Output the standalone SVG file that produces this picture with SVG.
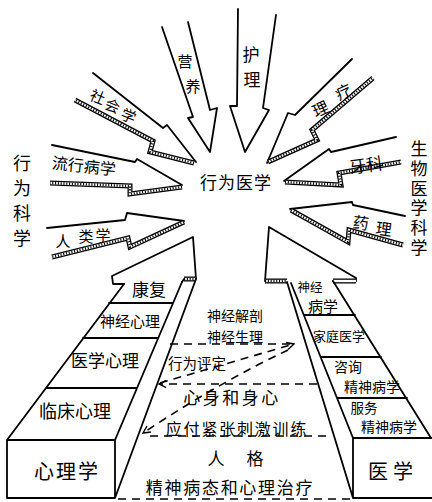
<svg xmlns="http://www.w3.org/2000/svg" width="432" height="502" viewBox="0 0 432 502">
<style>
.o{fill:none;stroke:#000;stroke-width:1.8;stroke-linejoin:round;stroke-linecap:round}
.h1{fill:none;stroke:#000;stroke-width:5;stroke-linejoin:miter}
.h2{fill:none;stroke:#fff;stroke-width:2.4}
.h3{fill:none;stroke:#000;stroke-width:2.4;stroke-dasharray:1.1 1.7}
.d{fill:none;stroke:#000;stroke-width:1.6;stroke-dasharray:8 6}
text{font-family:"Noto Sans CJK SC","Noto Sans CJK TC",sans-serif;fill:#000;text-anchor:middle;dominant-baseline:central}
.v{writing-mode:vertical-rl;text-anchor:start}
</style>
<defs>
<marker id="ah" viewBox="0 0 10 10" refX="9" refY="5" markerUnits="userSpaceOnUse" markerWidth="9" markerHeight="9" orient="auto"><path d="M1,1 L9,5 L1,9" fill="none" stroke="#000" stroke-width="1.6"/></marker>
<path id="hs" d="M194,163 L150,152 L153,141 L75,100"/>
<path id="hl" d="M182,187 L130,194 L130,186 L50,183"/>
<path id="hr" d="M184,222 L130,247 L128,238 L52,257"/>
<path id="hq" d="M268,162 L317,140 L312,130 L373,78"/>
<path id="hy" d="M285,182 L341,185 L339,173 L401,162"/>
<path id="hp" d="M291,210 L348,242 L349,230 L403,245"/>
<path id="hb1" d="M184,279 L196,279"/>
<path id="hb2" d="M265,281 L287,281"/>
<path id="hb3" d="M333,281 L356,281"/>
</defs>
<rect width="432" height="502" fill="#fff"/>

<g id="center"><text x="236" y="181" font-size="17" letter-spacing="1">行为医学</text></g>

<g id="group-behavioral"><text class="v" x="22" y="154" font-size="18" letter-spacing="7">行为科学</text></g>
<g id="group-biomedical"><text class="v" x="419" y="140" font-size="17" letter-spacing="2.8">生物医学科学</text></g>

<g id="arrow-nutrition"><path class="o" d="M162,27 L193,117 L188,118 L210,152 L217,108 L210,110 L188,22"/><text x="185" y="60" font-size="15">营</text><text x="193" y="85" font-size="15">养</text></g>
<g id="arrow-nursing"><path class="o" d="M238,9 L237,106 L230,106 L245,152 L269,110 L263,108 L276,15"/><text x="251" y="53" font-size="17">护</text><text x="252" y="78" font-size="17">理</text></g>
<g id="arrow-physio"><path class="o" d="M352,59 L295,115 L288,113 L267,163"/><use href="#hq" class="h1"/><use href="#hq" class="h2"/><use href="#hq" class="h3"/><text x="343" y="91" font-size="16" transform="rotate(-25 343 91)">疗</text><text x="320" y="108" font-size="16" transform="rotate(-25 320 108)">理</text></g>
<g id="arrow-sociology"><path class="o" d="M93,73 L163,128 L167,125 L196,162"/><use href="#hs" class="h1"/><use href="#hs" class="h2"/><use href="#hs" class="h3"/><text x="98" y="96" font-size="15" transform="rotate(22 98 96)">社</text><text x="113" y="105" font-size="15" transform="rotate(22 113 105)">会</text><text x="129" y="115" font-size="15" transform="rotate(22 129 115)">学</text></g>
<g id="arrow-epidemiology"><path class="o" d="M52,145 L135,162 L137,159 L182,185"/><use href="#hl" class="h1"/><use href="#hl" class="h2"/><use href="#hl" class="h3"/><text x="84" y="165" font-size="16" transform="rotate(6 84 165)">流行病学</text></g>
<g id="arrow-anthropology"><path class="o" d="M47,228 L125,220 L127,213 L184,221"/><use href="#hr" class="h1"/><use href="#hr" class="h2"/><use href="#hr" class="h3"/><text x="63" y="240" font-size="15">人</text><text x="86" y="235" font-size="15">类</text><text x="103" y="234" font-size="15">学</text></g>
<g id="arrow-dentistry"><path class="o" d="M396,137 L331,152 L329,149 L284,181"/><use href="#hy" class="h1"/><use href="#hy" class="h2"/><use href="#hy" class="h3"/><text x="366" y="164" font-size="17" transform="rotate(-8 366 164)">牙科</text></g>
<g id="arrow-pharmacology"><path class="o" d="M405,216 L353,205 L352,202 L290,209"/><use href="#hp" class="h1"/><use href="#hp" class="h2"/><use href="#hp" class="h3"/><text x="361" y="222" font-size="16" transform="rotate(8 361 222)">药</text><text x="384" y="228" font-size="16" transform="rotate(8 384 228)">理</text></g>

<g id="pillar-psychology">
<path class="o" d="M124,284 L113,284 L112,276 L193,237 L196,279 L184,279 L182,282"/>
<use href="#hb1" class="h1"/><use href="#hb1" class="h2"/><use href="#hb1" class="h3"/>
<path class="o" d="M124,284 L7,440 M182,282 L115,440 M196,279 L115,498 M7,440 L115,440 L115,498 L7,498 Z M109,303 L173,303 M83,338 L158,338 M46,388 L137,388"/>
<text x="149" y="288" font-size="17">康复</text>
<text x="130" y="320" font-size="15">神经心理</text>
<text x="105" y="359" font-size="17">医学心理</text>
<text x="75" y="410" font-size="18">临床心理</text>
<text x="67" y="470" font-size="20" letter-spacing="2">心理学</text>
</g>

<g id="pillar-medicine">
<path class="o" d="M265,281 L269,227 L356,278 L356,281 L333,281"/>
<use href="#hb2" class="h1"/><use href="#hb2" class="h2"/><use href="#hb2" class="h3"/>
<use href="#hb3" class="h1"/><use href="#hb3" class="h2"/>
<path class="o" d="M291,283 L353,438 M287,282 L353,498 M333,281 L431,438 M353,438 L432,438 M353,438 L353,498 L432,498 M304,315 L355,315 M321,357 L381,357 M337,398 L407,398"/>
<text x="310" y="286" font-size="12.5">神经</text>
<text x="323" y="305" font-size="15">病学</text>
<text x="339" y="335" font-size="13">家庭医学</text>
<text x="348" y="366" font-size="14">咨询</text>
<text x="372" y="386" font-size="14">精神病学</text>
<text x="364" y="407" font-size="13.5">服务</text>
<text x="389" y="426" font-size="14">精神病学</text>
<text x="393" y="470" font-size="20" letter-spacing="5">医学</text>
</g>

<g id="middle-topics">
<text x="235" y="315" font-size="14">神经解剖</text>
<text x="235" y="336" font-size="14">神经生理</text>
<text x="197" y="362" font-size="14.5">行为评定</text>
<text x="232" y="396" font-size="17" letter-spacing="2.5">心身和身心</text>
<text x="237" y="428" font-size="16" letter-spacing="1.8">应付紧张刺激训练</text>
<text x="216" y="457" font-size="17">人</text><text x="255" y="457" font-size="17">格</text>
<text x="230" y="486" font-size="17" letter-spacing="1.7">精神病态和心理治疗</text>
</g>

<g id="connectors">
<path class="d" d="M170,344 L293,344"/>
<path class="d" d="M160,383 L294,344" marker-end="url(#ah)"/>
<path class="d" d="M317,384 L159,384" marker-end="url(#ah)"/>
<path class="d" d="M288,350 Q220,382 143,433" marker-end="url(#ah)"/>
<path class="d" d="M150,436 L331,436"/>
<path class="d" d="M118,499 L352,499"/>
</g>
</svg>
